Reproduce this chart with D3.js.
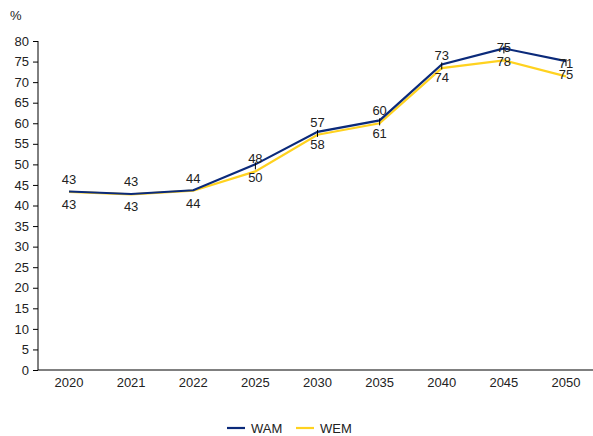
<!DOCTYPE html>
<html><head><meta charset="utf-8">
<script src="https://cdn.jsdelivr.net/npm/d3@7"></script>
<style>body{margin:0;background:#fff;}svg{display:block;font-family:"Liberation Sans",Arial,sans-serif;}</style>
</head><body>
<script>
const categories = ["2020","2021","2022","2025","2030","2035","2040","2045","2050"];
const wam = [43.4, 42.8, 43.7, 50.0, 57.9, 60.7, 74.3, 78.2, 75.1];
const wem = [43.3, 42.7, 43.6, 48.3, 57.2, 60.0, 73.4, 75.3, 71.4];
const markerYears = ["2025","2030","2035","2040","2045","2050"];
const yTicks = [0,5,10,15,20,25,30,35,40,45,50,55,60,65,70,75,80];
const colors = {WAM:"#0B2A7A", WEM:"#FFD21F"};

const W=593,H=436;
const svg=d3.select("body").append("svg").attr("width",W).attr("height",H);
const x=d3.scalePoint().domain(categories).range([69,566]);
const y=d3.scaleLinear().domain([0,80]).range([370,41]);

// y axis
const ya=svg.append("g").attr("transform","translate(38,0)")
  .call(d3.axisLeft(y).tickValues(yTicks).tickSize(5).tickPadding(4));
ya.select(".domain").attr("stroke","#000").attr("d","M0,41V370");
ya.selectAll(".tick line").attr("stroke","#000");
ya.selectAll("text").attr("font-size",13).attr("fill","#222").attr("font-family","Liberation Sans, Arial, sans-serif");

// x axis
svg.append("line").attr("x1",38).attr("x2",597).attr("y1",370).attr("y2",370).attr("stroke","#000");
svg.selectAll(".xl").data(categories).enter().append("text")
  .attr("x",d=>x(d)).attr("y",387).attr("text-anchor","middle")
  .attr("font-size",13).attr("fill","#222").text(d=>d);

svg.append("text").attr("x",10).attr("y",20).attr("font-size",13).attr("fill","#222").text("%");

const line=d3.line().x((d,i)=>x(categories[i])).y(d=>y(d));
svg.append("path").datum(wem).attr("d",line).attr("fill","none").attr("stroke",colors.WEM).attr("stroke-width",2.2);
svg.append("path").datum(wam).attr("d",line).attr("fill","none").attr("stroke",colors.WAM).attr("stroke-width",2.2);

// small vertical markers
svg.selectAll(".mk").data(markerYears).enter().append("line")
  .attr("x1",d=>x(d)).attr("x2",d=>x(d))
  .attr("y1",d=>y(wam[categories.indexOf(d)])-2).attr("y2",d=>y(wam[categories.indexOf(d)])+5)
  .attr("stroke","#000").attr("stroke-width",1);

// labels: WEM above its point, WAM below its point
svg.selectAll(".lt").data(wem).enter().append("text")
  .attr("x",(d,i)=>x(categories[i])).attr("y",d=>y(d)-8)
  .attr("text-anchor","middle").attr("font-size",13).attr("fill","#222")
  .text(d=>Math.round(d));
svg.selectAll(".lb").data(wam).enter().append("text")
  .attr("x",(d,i)=>x(categories[i])).attr("y",d=>y(d)+17.5)
  .attr("text-anchor","middle").attr("font-size",13).attr("fill","#222")
  .text(d=>Math.round(d));

// legend
const lg=[{n:"WAM",x:227},{n:"WEM",x:296}];
lg.forEach(l=>{
  svg.append("line").attr("x1",l.x).attr("x2",l.x+18).attr("y1",428).attr("y2",428).attr("stroke",colors[l.n]).attr("stroke-width",2.2);
  svg.append("text").attr("x",l.x+24).attr("y",433).attr("font-size",13).attr("fill","#222").text(l.n);
});
</script>
</body></html>
